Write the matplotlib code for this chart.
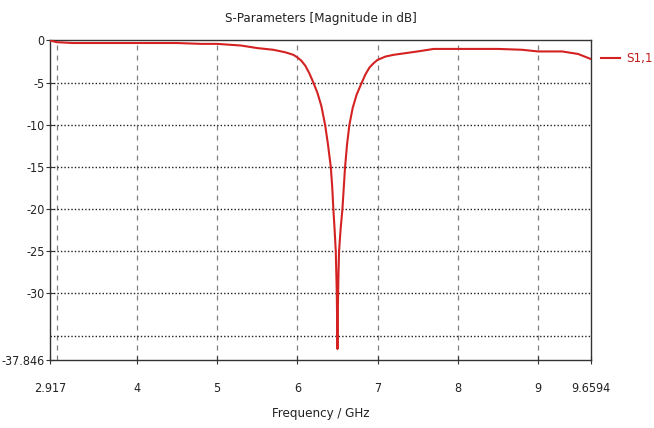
import matplotlib
matplotlib.use("Agg")
import matplotlib.pyplot as plt

plt.rcParams['font.family'] = ['DejaVu Sans']
plt.rcParams['font.stretch'] = 'condensed'

freq = [2.917, 3.0, 3.2, 3.6, 4.0, 4.5, 4.8, 5.0, 5.3, 5.5, 5.7, 5.85, 5.95, 6.0, 6.05, 6.1, 6.15,
        6.2, 6.25, 6.3, 6.346, 6.38, 6.417, 6.435, 6.449, 6.465, 6.479, 6.492, 6.5, 6.505, 6.512, 6.52,
        6.54, 6.562, 6.595, 6.62, 6.649, 6.69, 6.74, 6.803, 6.85, 6.9, 6.95, 7.0, 7.1, 7.2, 7.35,
        7.5, 7.7, 8.0, 8.5, 8.8, 9.0, 9.3, 9.5, 9.6594]
s11 = [0.0, -0.2, -0.3, -0.3, -0.3, -0.3, -0.4, -0.4, -0.6, -0.9, -1.1, -1.4, -1.7, -2.0, -2.4, -3.0, -3.9,
       -5.0, -6.2, -7.8, -10.0, -12.2, -15.0, -17.4, -20.0, -22.5, -25.0, -30.0, -36.6, -32.0, -28.0, -25.0,
       -22.3, -20.0, -15.0, -12.3, -10.0, -8.0, -6.4, -5.0, -4.0, -3.2, -2.7, -2.3, -1.9, -1.7, -1.5,
       -1.3, -1.0, -1.0, -1.0, -1.1, -1.3, -1.3, -1.6, -2.2]

xticks = [2.917, 4, 5, 6, 7, 8, 9, 9.6594]
xticklabels = ["2.917", "4", "5", "6", "7", "8", "9", "9.6594"]
xgrid = [3, 4, 5, 6, 7, 8, 9]
yticks = [0, -5, -10, -15, -20, -25, -30, -37.846]
yticklabels = ["0", "-5", "-10", "-15", "-20", "-25", "-30", "-37.846"]
ygrid = [-5, -10, -15, -20, -25, -30, -35]

fig = plt.figure(figsize=(6.54, 4.28), dpi=100)
ax = fig.add_axes([0.0765, 0.160, 0.827, 0.7454])
ax.set_xlim(2.917, 9.6594)
ax.set_ylim(-37.846, 0)

for g in xgrid:
    ax.axvline(g, color="#808080", linestyle=(0, (4, 4)), linewidth=0.9, zorder=1)
for g in ygrid:
    ax.axhline(g, color="#202020", linestyle=(0, (1, 1.5)), linewidth=1.0, zorder=1)

line, = ax.plot(freq, s11, color="#d42222", linewidth=1.5, zorder=3, label="S1,1")

ax.set_xticks(xticks)
ax.set_xticklabels(xticklabels)
ax.set_yticks(yticks)
ax.set_yticklabels(yticklabels)
ax.tick_params(axis="both", direction="inout", length=6, width=0.8, colors="#333333",
               labelsize=9, labelcolor="#222222")
ax.tick_params(axis="x", pad=13)
ax.tick_params(axis="y", pad=1)
for s in ax.spines.values():
    s.set_color("#333333")
    s.set_linewidth(1.0)

ax.set_title("S-Parameters [Magnitude in dB]", fontsize=9.5, color="#222222", pad=13)
ax.set_xlabel("Frequency / GHz", fontsize=9.5, color="#222222", labelpad=9)

leg = ax.legend(loc="center left", bbox_to_anchor=(1.0, 0.943), frameon=False,
                handlelength=1.4, fontsize=9.5, borderaxespad=0.4, handletextpad=0.5)
for t in leg.get_texts():
    t.set_color("#c02020")

fig.savefig("out.png", dpi=100)
